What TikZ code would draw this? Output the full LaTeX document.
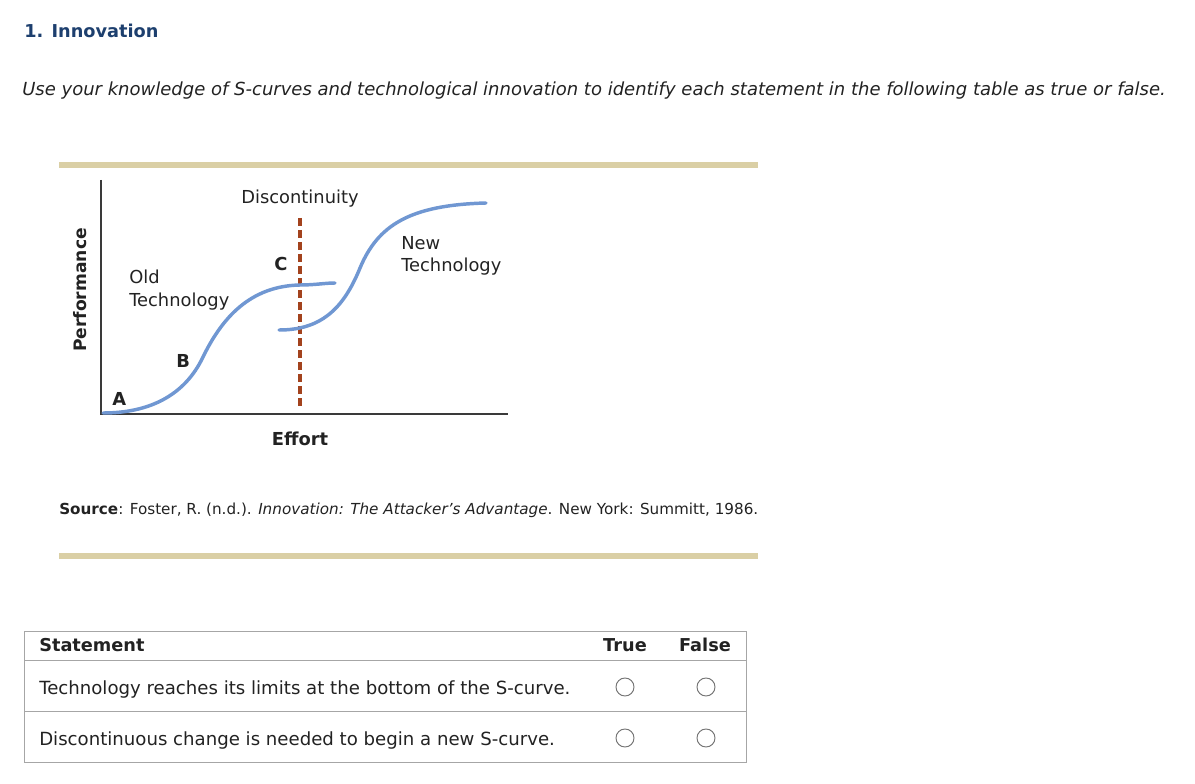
\documentclass[tikz,border=0pt]{standalone}
\usepackage{fontspec}
\setmainfont{DejaVu Sans}
\usetikzlibrary{positioning}
\definecolor{titleblue}{HTML}{1D3F6E}
\definecolor{tanrule}{HTML}{DACFA5}
\definecolor{curveblue}{HTML}{7097D2}
\definecolor{discred}{HTML}{A3421D}
\definecolor{axisgray}{HTML}{3A3A3A}
\definecolor{gridgray}{HTML}{A6A6A6}
\definecolor{inkgray}{HTML}{222222}
\tikzset{
  txt/.style={inner sep=0pt, anchor=base west, text=inkgray, font=\fontsize{13.6}{16}\selectfont},
  chartlbl/.style={inner sep=0pt, anchor=base west, text=inkgray, font=\fontsize{13.4}{16}\selectfont},
  chartbold/.style={chartlbl, font=\fontsize{13.4}{16}\selectfont\bfseries},
  scurve/.style={curveblue, line width=2.6pt, line cap=round},
  radio/.style={draw=black!55, line width=0.7pt, circle, minimum size=13.5pt, inner sep=0pt},
}
\begin{document}
\begin{tikzpicture}[x=0.75pt,y=-0.75pt]
	\useasboundingbox (0,0) rectangle (1195,784);
	% heading and instruction
	\node[txt, text=titleblue, font=\fontsize{13.3}{16}\selectfont\bfseries] (title) at (24,38) {1. Innovation};
	\node[txt, font=\fontsize{13.5}{16}\selectfont\itshape] (intro) at (22,96) {Use your knowledge of S-curves and technological innovation to identify each statement in the following table as true or false.};
	% rules round the figure
	\draw[tanrule, line width=4.5pt] (59,165) -- (758,165);
	\draw[tanrule, line width=4.5pt] (59,555.5) -- (758,555.5);
	% axes
	\coordinate (O) at (101,414);
	\draw[axisgray, line width=2.2pt] (101,180) -- (O) -- (508,414);
	\node[chartbold, anchor=base, rotate=90, font=\fontsize{12.85}{16}\selectfont\bfseries] (perf) at (86,290) {Performance};
	\node[chartbold, anchor=base] (effort) at (300,445) {Effort};
	% discontinuity
	\draw[discred, line width=3pt, dash pattern=on 6pt off 3pt] (300,218) -- (300,408);
	\node[chartlbl, anchor=base] (disc) at (300,204) {Discontinuity};
	% old and new S-curves
	\draw[scurve] (103,413) .. controls (150,413) and (185,395) .. (203,357)
		.. controls (222,318) and (250,286) .. (300,285)
		.. controls (315,285) and (325,283) .. (335,283);
	\draw[scurve] (279,330) .. controls (320,330) and (343,310) .. (360,268)
		.. controls (378,225) and (410,205) .. (486,203);
	\node[chartlbl] (old1) at (129,283) {Old};
	\node[chartlbl] (old2) at (129,306) {Technology};
	\node[chartlbl] (new1) at (401,250) {New};
	\node[chartlbl] (new2) at (401,272) {Technology};
	\node[chartbold] (ptA) at (112,405) {A};
	\node[chartbold] (ptB) at (176,367) {B};
	\node[chartbold] (ptC) at (274,271) {C};
	% source
	\node[txt, font=\fontsize{11.4}{14}\selectfont] (source) at (59,514) {\textbf{Source}: Foster, R. (n.d.). \textit{Innovation: The Attacker’s Advantage}. New York: Summitt, 1986.};
	% table
	\draw[gridgray, line width=0.75pt] (24,631) rectangle (746,762);
	\draw[gridgray, line width=0.75pt] (24,660) -- (746,660);
	\draw[gridgray, line width=0.75pt] (24,711) -- (746,711);
	\node[txt, font=\fontsize{13.3}{16}\selectfont\bfseries] (hstate) at (39,651) {Statement};
	\node[txt, anchor=base, font=\fontsize{13.3}{16}\selectfont\bfseries] (htrue) at (625,651) {True};
	\node[txt, anchor=base, font=\fontsize{13.3}{16}\selectfont\bfseries] (hfalse) at (705,651) {False};
	\node[txt] (row1) at (39,694) {Technology reaches its limits at the bottom of the S-curve.};
	\node[txt] (row2) at (39,745) {Discontinuous change is needed to begin a new S-curve.};
	\foreach \ry/\rn in {687/1,738/2}{
		\node[radio] (t\rn) at (625,\ry) {};
		\node[radio] (f\rn) at (706,\ry) {};
	}
\end{tikzpicture}
\end{document}
